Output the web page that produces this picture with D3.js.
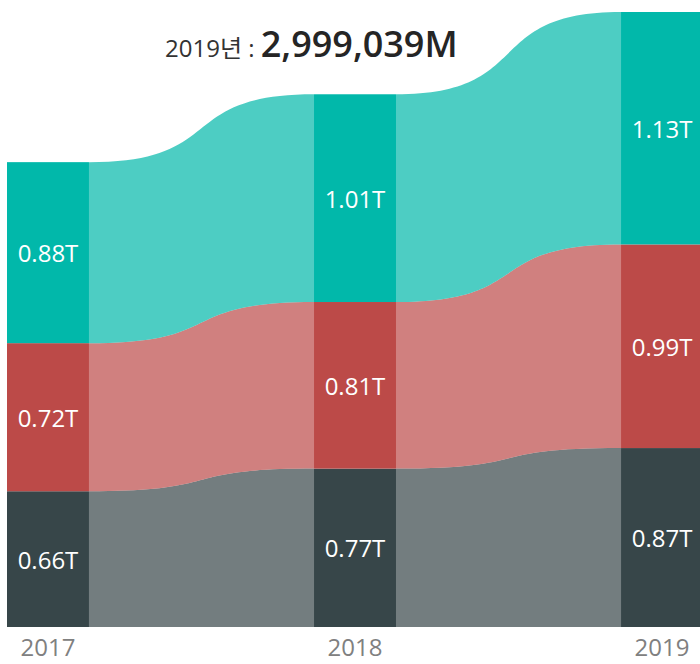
<!DOCTYPE html>
<html>
<head>
<meta charset="utf-8">
<script src="https://cdn.jsdelivr.net/npm/d3@7"></script>
<style>
    body { margin: 0; background: #fff; }
    text { font-family: "Open Sans", "Noto Sans", "Noto Sans CJK KR", sans-serif; }
</style>
</head>
<body>
<div id="chart"></div>
<script>
// data (values in T)
const years = ["2017", "2018", "2019"];
const seriesNames = ["dark", "red", "teal"];
const darkValues = [0.66, 0.77, 0.87];
const redValues = [0.72, 0.81, 0.99];
const tealValues = [0.88, 1.01, 1.13];
const seriesColors = ["#374649", "#BC4A48", "#01B8AA"];
const titleLabel = "2019년 : ";
const titleValue = "2,999,039M";

let width = 700, height = 664;
let svg = d3.select("#chart")
    .append("svg")
    .attr("width", width)
    .attr("height", height);

let rows = years.map((yr, i) => ({
    year: yr,
    dark: darkValues[i],
    red: redValues[i],
    teal: tealValues[i]
}));

let stacked = d3.stack().keys(seriesNames)(rows);

// scales
let x = d3.scaleBand().domain(years).range([7, 703]).paddingInner(0.733).paddingOuter(0);
let y = d3.scaleLinear().domain([0, 2.99]).range([627, 12]);
let color = d3.scaleOrdinal().domain(seriesNames).range(seriesColors);
let bw = x.bandwidth();

// ribbons between bars
let k = 0.62;
stacked.forEach(layer => {
    for (let i = 0; i < years.length - 1; i++) {
        let a = layer[i], b = layer[i + 1];
        let x0 = x(years[i]) + bw, x1 = x(years[i + 1]);
        let dx = x1 - x0;
        let p = d3.path();
        p.moveTo(x0, y(a[1]));
        p.bezierCurveTo(x0 + k * dx, y(a[1]), x1 - k * dx, y(b[1]), x1, y(b[1]));
        p.lineTo(x1, y(b[0]));
        p.bezierCurveTo(x1 - k * dx, y(b[0]), x0 + k * dx, y(a[0]), x0, y(a[0]));
        p.closePath();
        svg.append("path")
            .attr("d", p.toString())
            .attr("fill", color(layer.key))
            .attr("fill-opacity", 0.7);
    }
});

// bars
let fmt = d3.format(".2f");
stacked.forEach(layer => {
    let g = svg.append("g");
    g.selectAll("rect")
        .data(layer)
        .enter()
        .append("rect")
        .attr("x", d => x(d.data.year))
        .attr("y", d => y(d[1]))
        .attr("width", bw)
        .attr("height", d => y(d[0]) - y(d[1]))
        .attr("fill", color(layer.key));

    g.selectAll("text")
        .data(layer)
        .enter()
        .append("text")
        .attr("x", d => x(d.data.year) + bw / 2)
        .attr("y", d => (y(d[0]) + y(d[1])) / 2)
        .attr("text-anchor", "middle")
        .attr("dominant-baseline", "central")
        .attr("fill", "#fff")
        .attr("font-size", 24)
        .text(d => fmt(d[1] - d[0]) + "T");
});

// x axis
let xAxis = svg.append("g")
    .attr("transform", "translate(0,627)")
    .call(d3.axisBottom(x).tickSize(0).tickPadding(12));
xAxis.select(".domain").remove();
xAxis.selectAll("text")
    .attr("font-size", 24)
    .attr("fill", "#808080")
    .style("font-family", "\"Open Sans\", sans-serif");

// title
let title = svg.append("text")
    .attr("x", 165)
    .attr("y", 57);
title.append("tspan")
    .attr("font-size", 24)
    .attr("fill", "#333")
    .text(titleLabel);
title.append("tspan")
    .attr("font-size", 36)
    .attr("font-weight", 600)
    .attr("fill", "#252525")
    .text(titleValue);
</script>
</body>
</html>
